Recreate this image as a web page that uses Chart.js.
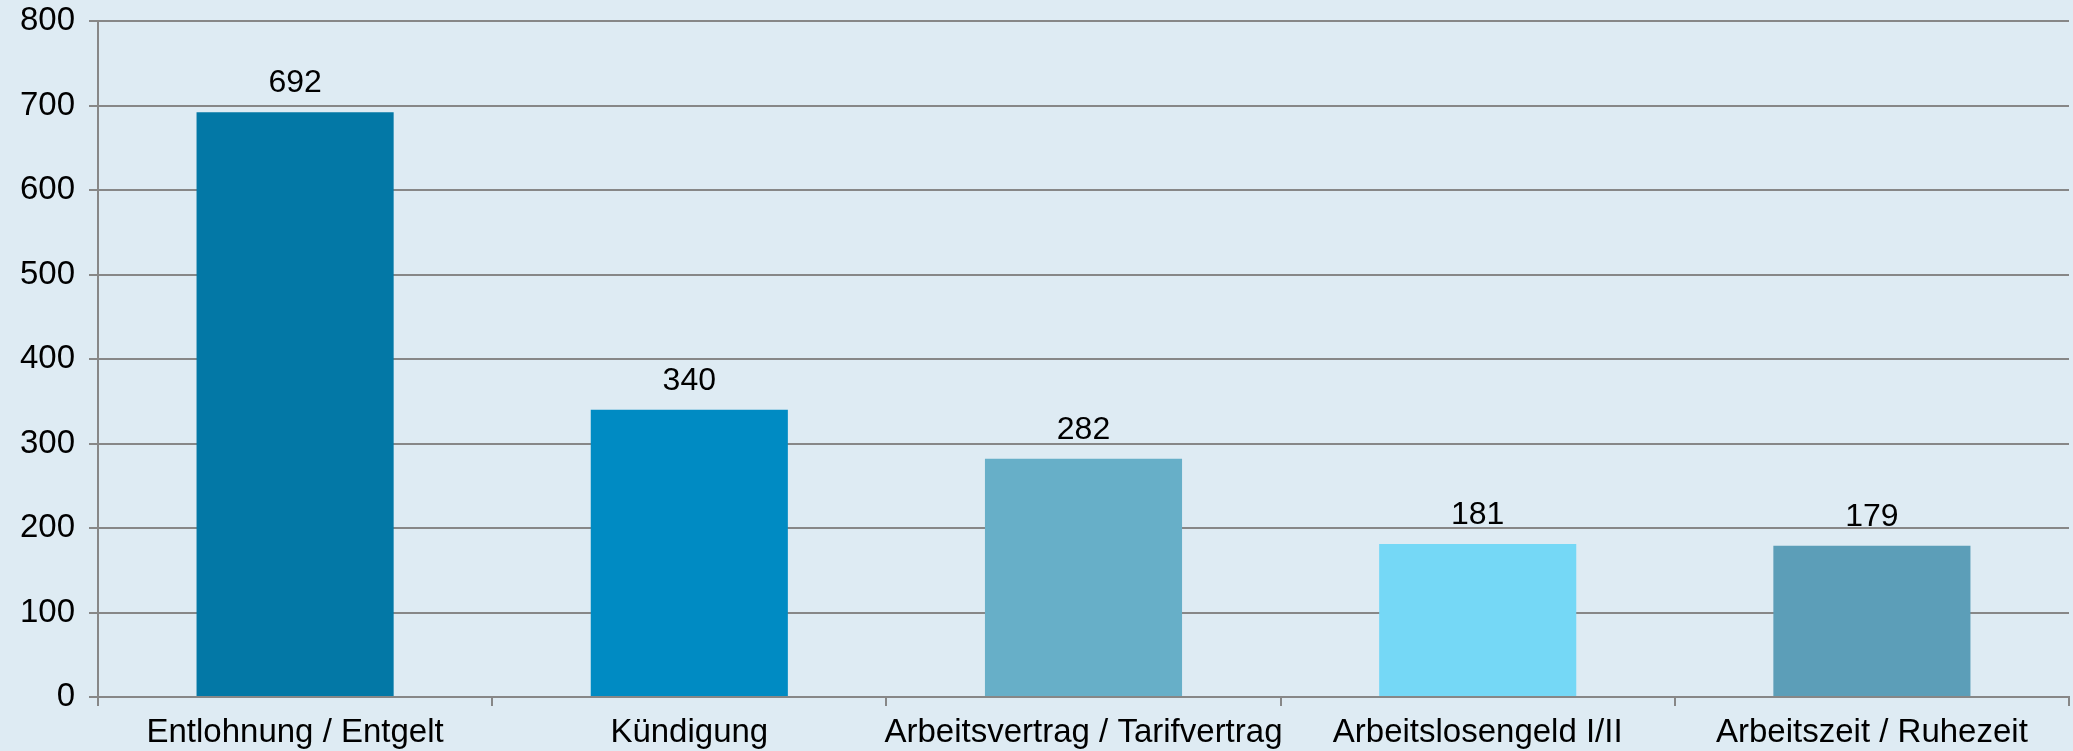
<!DOCTYPE html>
<html>
<head>
<meta charset="utf-8">
<script src="https://cdn.jsdelivr.net/npm/chart.js@4"></script>
<style>
    html, body { margin: 0; padding: 0; background: #deebf3; }
    #wrap { width: 2073px; height: 751px; }
</style>
</head>
<body>
<div id="wrap"><canvas id="barChart" width="2073" height="751"></canvas></div>
<script>
const categories = ['Entlohnung / Entgelt', 'Kündigung', 'Arbeitsvertrag / Tarifvertrag', 'Arbeitslosengeld I/II', 'Arbeitszeit / Ruhezeit'];
const values = [692, 340, 282, 181, 179];
const barColors = ['#0378a6', '#008bc3', '#67afc8', '#75d8f6', '#5c9eb8'];
const yTicks = [0, 100, 200, 300, 400, 500, 600, 700, 800];

const gridGray = '#878787';
const font = { family: 'Liberation Sans, Arial, sans-serif', size: 33 };

// draw the value above each bar
const valueLabels = {
    id: 'valueLabels',
    afterDatasetsDraw(chart) {
        const ctx = chart.ctx;
        const meta = chart.getDatasetMeta(0);
        ctx.save();
        ctx.fillStyle = '#000';
        ctx.font = '32px ' + font.family;
        ctx.textAlign = 'center';
        ctx.textBaseline = 'alphabetic';
        meta.data.forEach((bar, i) => {
            ctx.fillText(values[i], bar.x, bar.y - 20);
        });
        ctx.restore();
    }
};

new Chart(document.getElementById('barChart').getContext('2d'), {
    type: 'bar',
    data: {
        labels: categories,
        datasets: [{
            data: values,
            backgroundColor: barColors,
            borderWidth: 0,
            barPercentage: 0.5,
            categoryPercentage: 1
        }]
    },
    options: {
        responsive: false,
        animation: false,
        layout: { padding: { top: 21, right: 4, left: 0, bottom: 0 } },
        plugins: {
            legend: { display: false },
            tooltip: { enabled: false }
        },
        scales: {
            x: {
                offset: true,
                grid: {
                    offset: true,
                    drawOnChartArea: false,
                    drawTicks: true,
                    tickLength: 9,
                    color: gridGray,
                    lineWidth: 2
                },
                border: { color: gridGray, width: 2 },
                ticks: { color: '#000', font: font, padding: 7, maxRotation: 0, autoSkip: false },
                afterFit(scale) { scale.height = 54; }
            },
            y: {
                min: 0,
                max: 800,
                afterBuildTicks(scale) { scale.ticks = yTicks.map(v => ({ value: v })); },
                grid: { color: gridGray, lineWidth: 2, tickLength: 9 },
                border: { color: gridGray, width: 2 },
                ticks: { color: '#000', font: font, padding: 14 },
                afterFit(scale) {
                    scale.width = 98;
                    scale.paddingTop = 0;
                    scale.paddingBottom = 0;
                }
            }
        }
    },
    plugins: [valueLabels]
});
</script>
</body>
</html>
